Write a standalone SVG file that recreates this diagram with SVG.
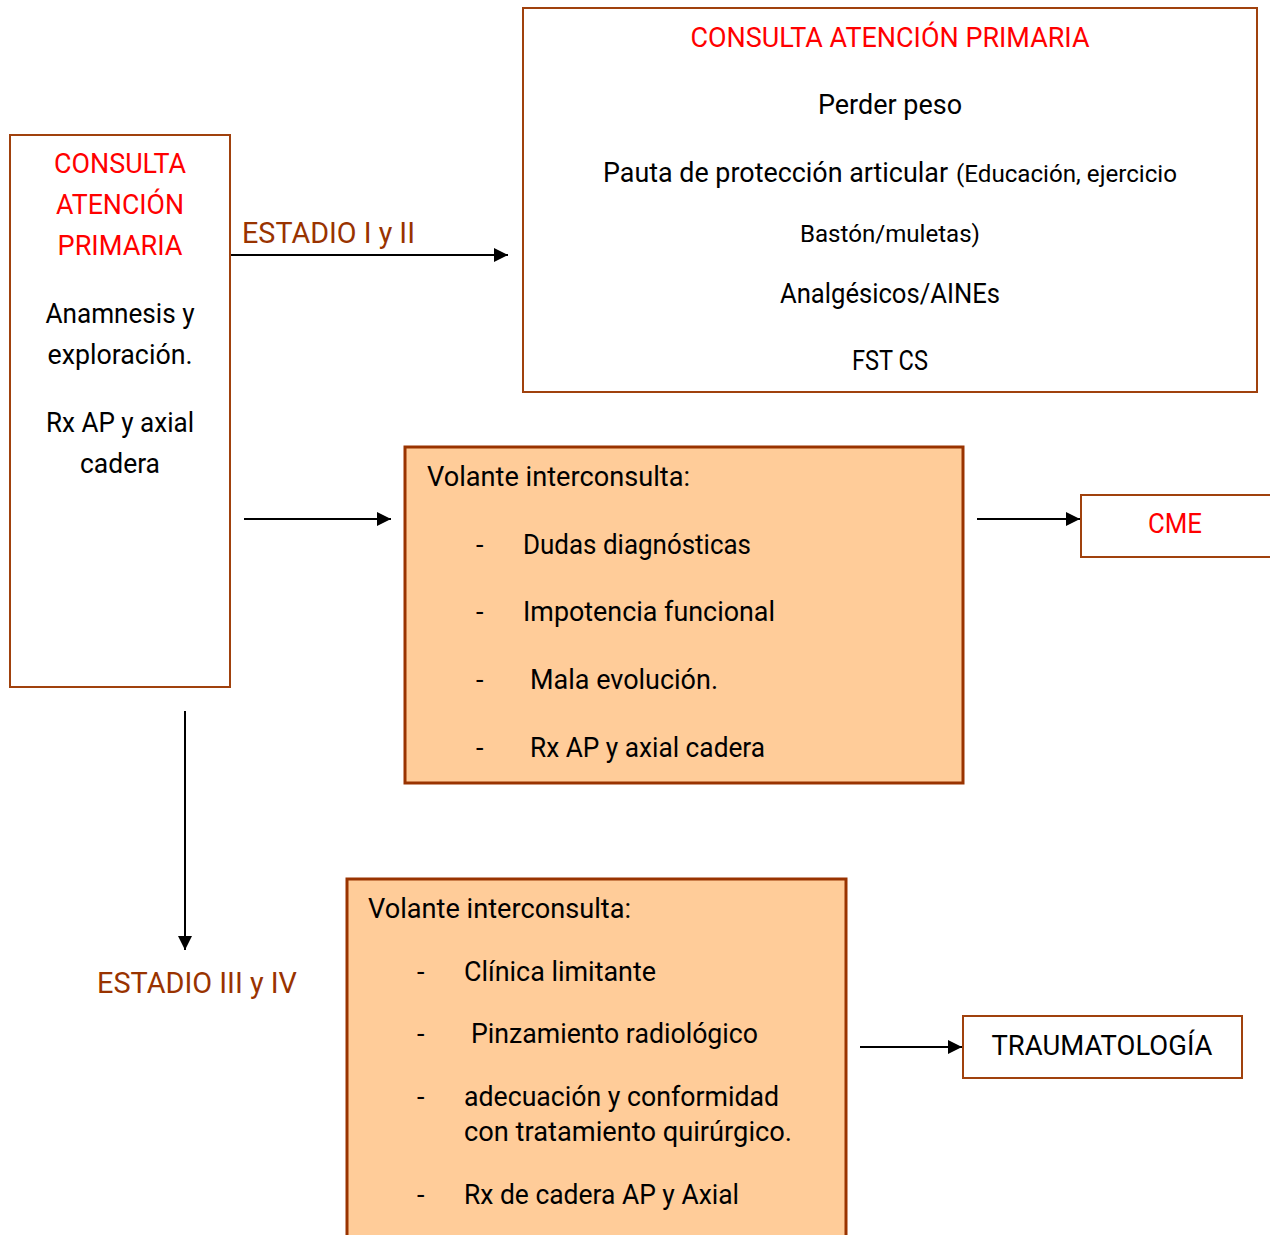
<svg xmlns="http://www.w3.org/2000/svg" width="1270" height="1235" viewBox="0 0 1270 1235">
  <defs>
    <marker id="arrow" viewBox="0 0 14 14" refX="14" refY="7" markerWidth="14" markerHeight="14" markerUnits="userSpaceOnUse" orient="auto">
      <path d="M0,0 L14,7 L0,14 Z" fill="#000"/>
    </marker>
    <style>
      text { font-family: "Liberation Sans Narrow", "Roboto", "Liberation Sans", sans-serif; font-size: 27px; fill: #000; }
      .red { fill: #FF0000; }
      .brown { fill: #993300; font-size: 29px; }
      .small { font-size: 24px; }
      .mid { text-anchor: middle; }
      .box { fill: #FFFFFF; stroke: #A0410D; stroke-width: 2; }
      .peach { fill: #FFCC99; stroke: #993300; stroke-width: 3; }
      .conn { stroke: #000; stroke-width: 2; fill: none; marker-end: url(#arrow); }
    </style>
  </defs>
  <rect width="1270" height="1235" fill="#FFFFFF"/>

  <!-- left column: primary care consultation -->
  <g id="consulta-ap">
    <rect class="box" x="10" y="135" width="220" height="552"/>
    <text class="red mid" x="120" y="173" textLength="132" lengthAdjust="spacingAndGlyphs">CONSULTA</text>
    <text class="red mid" x="120" y="214" textLength="128" lengthAdjust="spacingAndGlyphs">ATENCIÓN</text>
    <text class="red mid" x="120" y="255" textLength="125" lengthAdjust="spacingAndGlyphs">PRIMARIA</text>
    <text class="mid" x="120" y="323" textLength="149" lengthAdjust="spacingAndGlyphs">Anamnesis y</text>
    <text class="mid" x="120" y="364" textLength="145" lengthAdjust="spacingAndGlyphs">exploración.</text>
    <text class="mid" x="120" y="432" textLength="148" lengthAdjust="spacingAndGlyphs">Rx AP y axial</text>
    <text class="mid" x="120" y="473" textLength="80" lengthAdjust="spacingAndGlyphs">cadera</text>
  </g>

  <!-- stage labels -->
  <g id="estadio-1-2">
    <text class="brown" x="242" y="243" textLength="173" lengthAdjust="spacingAndGlyphs">ESTADIO I y II</text>
  </g>
  <g id="estadio-3-4">
    <text class="brown" x="97" y="993" textLength="200" lengthAdjust="spacingAndGlyphs">ESTADIO III y IV</text>
  </g>

  <!-- top right: treatment in primary care -->
  <g id="tratamiento-ap">
    <rect class="box" x="523" y="8" width="734" height="384"/>
    <text class="red mid" x="890" y="47" textLength="399" lengthAdjust="spacingAndGlyphs">CONSULTA ATENCIÓN PRIMARIA</text>
    <text class="mid" x="890" y="114" textLength="144" lengthAdjust="spacingAndGlyphs">Perder peso</text>
    <text x="603" y="182" textLength="345" lengthAdjust="spacingAndGlyphs">Pauta de protección articular</text>
    <text class="small" x="956" y="182" textLength="221" lengthAdjust="spacingAndGlyphs">(Educación, ejercicio</text>
    <text class="small mid" x="890" y="242" textLength="180" lengthAdjust="spacingAndGlyphs">Bastón/muletas)</text>
    <text class="mid" x="890" y="303" textLength="220" lengthAdjust="spacingAndGlyphs">Analgésicos/AINEs</text>
    <text class="mid" x="890" y="370" textLength="76" lengthAdjust="spacingAndGlyphs">FST CS</text>
  </g>

  <!-- middle: referral to CME -->
  <g id="volante-cme">
    <rect class="peach" x="405" y="447" width="558" height="336"/>
    <text x="427" y="486" textLength="263" lengthAdjust="spacingAndGlyphs">Volante interconsulta:</text>
    <text x="476" y="554">-</text>
    <text x="523" y="554" textLength="228" lengthAdjust="spacingAndGlyphs">Dudas diagnósticas</text>
    <text x="476" y="621">-</text>
    <text x="523" y="621" textLength="252" lengthAdjust="spacingAndGlyphs">Impotencia funcional</text>
    <text x="476" y="689">-</text>
    <text x="530" y="689" textLength="188" lengthAdjust="spacingAndGlyphs">Mala evolución.</text>
    <text x="476" y="757">-</text>
    <text x="530" y="757" textLength="235" lengthAdjust="spacingAndGlyphs">Rx AP y axial cadera</text>
  </g>

  <g id="cme">
    <rect class="box" x="1081" y="495" width="200" height="62"/>
    <text class="red mid" x="1175" y="533" textLength="54" lengthAdjust="spacingAndGlyphs">CME</text>
  </g>

  <!-- bottom: referral to traumatology -->
  <g id="volante-trauma">
    <rect class="peach" x="347" y="879" width="499" height="370"/>
    <text x="368" y="918" textLength="263" lengthAdjust="spacingAndGlyphs">Volante interconsulta:</text>
    <text x="417" y="981">-</text>
    <text x="464" y="981" textLength="192" lengthAdjust="spacingAndGlyphs">Clínica limitante</text>
    <text x="417" y="1043">-</text>
    <text x="471" y="1043" textLength="287" lengthAdjust="spacingAndGlyphs">Pinzamiento radiológico</text>
    <text x="417" y="1106">-</text>
    <text x="464" y="1106" textLength="315" lengthAdjust="spacingAndGlyphs">adecuación y conformidad</text>
    <text x="464" y="1141" textLength="328" lengthAdjust="spacingAndGlyphs">con tratamiento quirúrgico.</text>
    <text x="417" y="1204">-</text>
    <text x="464" y="1204" textLength="275" lengthAdjust="spacingAndGlyphs">Rx de cadera AP y Axial</text>
  </g>

  <g id="traumatologia">
    <rect class="box" x="963" y="1016" width="279" height="62"/>
    <text class="mid" x="1102" y="1055" textLength="221" lengthAdjust="spacingAndGlyphs">TRAUMATOLOGÍA</text>
  </g>

  <!-- connectors -->
  <g id="connectors">
    <line class="conn" x1="231" y1="255" x2="508" y2="255" stroke-width="2.5"/>
    <line class="conn" x1="244" y1="519" x2="391" y2="519"/>
    <line class="conn" x1="977" y1="519" x2="1080" y2="519"/>
    <line class="conn" x1="185" y1="711" x2="185" y2="950"/>
    <line class="conn" x1="860" y1="1047" x2="962" y2="1047"/>
  </g>
</svg>
